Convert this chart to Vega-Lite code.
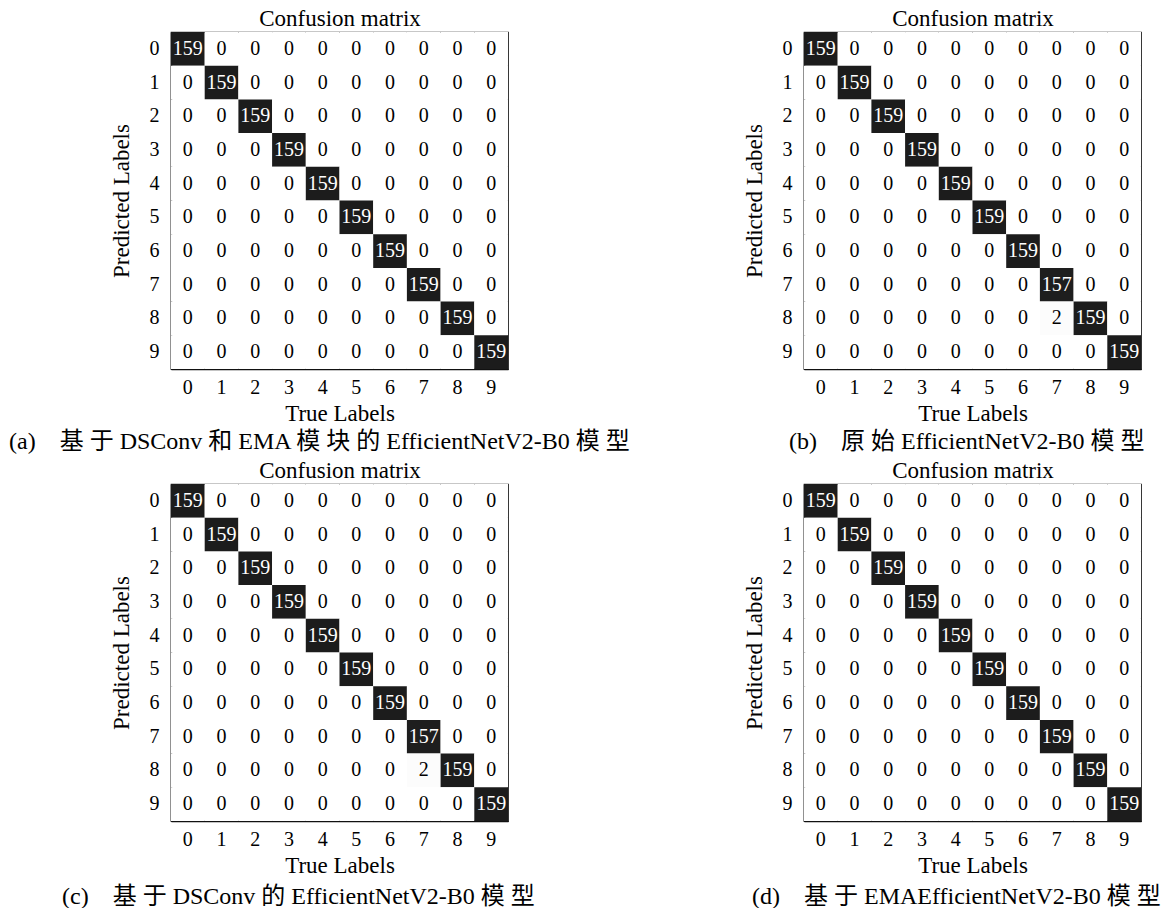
{
"$schema": "https://vega.github.io/schema/vega-lite/v6.json",
"padding": {"left": 8, "top": 6, "right": 4, "bottom": 0},
"background": "white",
"config": {
  "view": {"stroke": "#222222", "strokeWidth": 1.2},
  "axis": {"zindex": 1, "domainColor": "#111111", "domainWidth": 1.5, "tickColor": "#111111", "tickWidth": 1.2, "labelColor": "#000000", "titleColor": "#000000", "labelFont": "Liberation Serif", "titleFont": "Liberation Serif", "titleFontWeight": "normal", "grid": false},
  "title": {"font": "Liberation Serif, Noto Sans CJK SC", "fontWeight": "normal", "color": "#000000"},
  "text": {"font": "Liberation Serif"}
},
"datasets": {
"a": [
{"p":0,"t":0,"v":159},{"p":0,"t":1,"v":0},{"p":0,"t":2,"v":0},{"p":0,"t":3,"v":0},{"p":0,"t":4,"v":0},{"p":0,"t":5,"v":0},{"p":0,"t":6,"v":0},{"p":0,"t":7,"v":0},{"p":0,"t":8,"v":0},{"p":0,"t":9,"v":0},
{"p":1,"t":0,"v":0},{"p":1,"t":1,"v":159},{"p":1,"t":2,"v":0},{"p":1,"t":3,"v":0},{"p":1,"t":4,"v":0},{"p":1,"t":5,"v":0},{"p":1,"t":6,"v":0},{"p":1,"t":7,"v":0},{"p":1,"t":8,"v":0},{"p":1,"t":9,"v":0},
{"p":2,"t":0,"v":0},{"p":2,"t":1,"v":0},{"p":2,"t":2,"v":159},{"p":2,"t":3,"v":0},{"p":2,"t":4,"v":0},{"p":2,"t":5,"v":0},{"p":2,"t":6,"v":0},{"p":2,"t":7,"v":0},{"p":2,"t":8,"v":0},{"p":2,"t":9,"v":0},
{"p":3,"t":0,"v":0},{"p":3,"t":1,"v":0},{"p":3,"t":2,"v":0},{"p":3,"t":3,"v":159},{"p":3,"t":4,"v":0},{"p":3,"t":5,"v":0},{"p":3,"t":6,"v":0},{"p":3,"t":7,"v":0},{"p":3,"t":8,"v":0},{"p":3,"t":9,"v":0},
{"p":4,"t":0,"v":0},{"p":4,"t":1,"v":0},{"p":4,"t":2,"v":0},{"p":4,"t":3,"v":0},{"p":4,"t":4,"v":159},{"p":4,"t":5,"v":0},{"p":4,"t":6,"v":0},{"p":4,"t":7,"v":0},{"p":4,"t":8,"v":0},{"p":4,"t":9,"v":0},
{"p":5,"t":0,"v":0},{"p":5,"t":1,"v":0},{"p":5,"t":2,"v":0},{"p":5,"t":3,"v":0},{"p":5,"t":4,"v":0},{"p":5,"t":5,"v":159},{"p":5,"t":6,"v":0},{"p":5,"t":7,"v":0},{"p":5,"t":8,"v":0},{"p":5,"t":9,"v":0},
{"p":6,"t":0,"v":0},{"p":6,"t":1,"v":0},{"p":6,"t":2,"v":0},{"p":6,"t":3,"v":0},{"p":6,"t":4,"v":0},{"p":6,"t":5,"v":0},{"p":6,"t":6,"v":159},{"p":6,"t":7,"v":0},{"p":6,"t":8,"v":0},{"p":6,"t":9,"v":0},
{"p":7,"t":0,"v":0},{"p":7,"t":1,"v":0},{"p":7,"t":2,"v":0},{"p":7,"t":3,"v":0},{"p":7,"t":4,"v":0},{"p":7,"t":5,"v":0},{"p":7,"t":6,"v":0},{"p":7,"t":7,"v":159},{"p":7,"t":8,"v":0},{"p":7,"t":9,"v":0},
{"p":8,"t":0,"v":0},{"p":8,"t":1,"v":0},{"p":8,"t":2,"v":0},{"p":8,"t":3,"v":0},{"p":8,"t":4,"v":0},{"p":8,"t":5,"v":0},{"p":8,"t":6,"v":0},{"p":8,"t":7,"v":0},{"p":8,"t":8,"v":159},{"p":8,"t":9,"v":0},
{"p":9,"t":0,"v":0},{"p":9,"t":1,"v":0},{"p":9,"t":2,"v":0},{"p":9,"t":3,"v":0},{"p":9,"t":4,"v":0},{"p":9,"t":5,"v":0},{"p":9,"t":6,"v":0},{"p":9,"t":7,"v":0},{"p":9,"t":8,"v":0},{"p":9,"t":9,"v":159}
],
"b": [
{"p":0,"t":0,"v":159},{"p":0,"t":1,"v":0},{"p":0,"t":2,"v":0},{"p":0,"t":3,"v":0},{"p":0,"t":4,"v":0},{"p":0,"t":5,"v":0},{"p":0,"t":6,"v":0},{"p":0,"t":7,"v":0},{"p":0,"t":8,"v":0},{"p":0,"t":9,"v":0},
{"p":1,"t":0,"v":0},{"p":1,"t":1,"v":159},{"p":1,"t":2,"v":0},{"p":1,"t":3,"v":0},{"p":1,"t":4,"v":0},{"p":1,"t":5,"v":0},{"p":1,"t":6,"v":0},{"p":1,"t":7,"v":0},{"p":1,"t":8,"v":0},{"p":1,"t":9,"v":0},
{"p":2,"t":0,"v":0},{"p":2,"t":1,"v":0},{"p":2,"t":2,"v":159},{"p":2,"t":3,"v":0},{"p":2,"t":4,"v":0},{"p":2,"t":5,"v":0},{"p":2,"t":6,"v":0},{"p":2,"t":7,"v":0},{"p":2,"t":8,"v":0},{"p":2,"t":9,"v":0},
{"p":3,"t":0,"v":0},{"p":3,"t":1,"v":0},{"p":3,"t":2,"v":0},{"p":3,"t":3,"v":159},{"p":3,"t":4,"v":0},{"p":3,"t":5,"v":0},{"p":3,"t":6,"v":0},{"p":3,"t":7,"v":0},{"p":3,"t":8,"v":0},{"p":3,"t":9,"v":0},
{"p":4,"t":0,"v":0},{"p":4,"t":1,"v":0},{"p":4,"t":2,"v":0},{"p":4,"t":3,"v":0},{"p":4,"t":4,"v":159},{"p":4,"t":5,"v":0},{"p":4,"t":6,"v":0},{"p":4,"t":7,"v":0},{"p":4,"t":8,"v":0},{"p":4,"t":9,"v":0},
{"p":5,"t":0,"v":0},{"p":5,"t":1,"v":0},{"p":5,"t":2,"v":0},{"p":5,"t":3,"v":0},{"p":5,"t":4,"v":0},{"p":5,"t":5,"v":159},{"p":5,"t":6,"v":0},{"p":5,"t":7,"v":0},{"p":5,"t":8,"v":0},{"p":5,"t":9,"v":0},
{"p":6,"t":0,"v":0},{"p":6,"t":1,"v":0},{"p":6,"t":2,"v":0},{"p":6,"t":3,"v":0},{"p":6,"t":4,"v":0},{"p":6,"t":5,"v":0},{"p":6,"t":6,"v":159},{"p":6,"t":7,"v":0},{"p":6,"t":8,"v":0},{"p":6,"t":9,"v":0},
{"p":7,"t":0,"v":0},{"p":7,"t":1,"v":0},{"p":7,"t":2,"v":0},{"p":7,"t":3,"v":0},{"p":7,"t":4,"v":0},{"p":7,"t":5,"v":0},{"p":7,"t":6,"v":0},{"p":7,"t":7,"v":157},{"p":7,"t":8,"v":0},{"p":7,"t":9,"v":0},
{"p":8,"t":0,"v":0},{"p":8,"t":1,"v":0},{"p":8,"t":2,"v":0},{"p":8,"t":3,"v":0},{"p":8,"t":4,"v":0},{"p":8,"t":5,"v":0},{"p":8,"t":6,"v":0},{"p":8,"t":7,"v":2},{"p":8,"t":8,"v":159},{"p":8,"t":9,"v":0},
{"p":9,"t":0,"v":0},{"p":9,"t":1,"v":0},{"p":9,"t":2,"v":0},{"p":9,"t":3,"v":0},{"p":9,"t":4,"v":0},{"p":9,"t":5,"v":0},{"p":9,"t":6,"v":0},{"p":9,"t":7,"v":0},{"p":9,"t":8,"v":0},{"p":9,"t":9,"v":159}
],
"c": [
{"p":0,"t":0,"v":159},{"p":0,"t":1,"v":0},{"p":0,"t":2,"v":0},{"p":0,"t":3,"v":0},{"p":0,"t":4,"v":0},{"p":0,"t":5,"v":0},{"p":0,"t":6,"v":0},{"p":0,"t":7,"v":0},{"p":0,"t":8,"v":0},{"p":0,"t":9,"v":0},
{"p":1,"t":0,"v":0},{"p":1,"t":1,"v":159},{"p":1,"t":2,"v":0},{"p":1,"t":3,"v":0},{"p":1,"t":4,"v":0},{"p":1,"t":5,"v":0},{"p":1,"t":6,"v":0},{"p":1,"t":7,"v":0},{"p":1,"t":8,"v":0},{"p":1,"t":9,"v":0},
{"p":2,"t":0,"v":0},{"p":2,"t":1,"v":0},{"p":2,"t":2,"v":159},{"p":2,"t":3,"v":0},{"p":2,"t":4,"v":0},{"p":2,"t":5,"v":0},{"p":2,"t":6,"v":0},{"p":2,"t":7,"v":0},{"p":2,"t":8,"v":0},{"p":2,"t":9,"v":0},
{"p":3,"t":0,"v":0},{"p":3,"t":1,"v":0},{"p":3,"t":2,"v":0},{"p":3,"t":3,"v":159},{"p":3,"t":4,"v":0},{"p":3,"t":5,"v":0},{"p":3,"t":6,"v":0},{"p":3,"t":7,"v":0},{"p":3,"t":8,"v":0},{"p":3,"t":9,"v":0},
{"p":4,"t":0,"v":0},{"p":4,"t":1,"v":0},{"p":4,"t":2,"v":0},{"p":4,"t":3,"v":0},{"p":4,"t":4,"v":159},{"p":4,"t":5,"v":0},{"p":4,"t":6,"v":0},{"p":4,"t":7,"v":0},{"p":4,"t":8,"v":0},{"p":4,"t":9,"v":0},
{"p":5,"t":0,"v":0},{"p":5,"t":1,"v":0},{"p":5,"t":2,"v":0},{"p":5,"t":3,"v":0},{"p":5,"t":4,"v":0},{"p":5,"t":5,"v":159},{"p":5,"t":6,"v":0},{"p":5,"t":7,"v":0},{"p":5,"t":8,"v":0},{"p":5,"t":9,"v":0},
{"p":6,"t":0,"v":0},{"p":6,"t":1,"v":0},{"p":6,"t":2,"v":0},{"p":6,"t":3,"v":0},{"p":6,"t":4,"v":0},{"p":6,"t":5,"v":0},{"p":6,"t":6,"v":159},{"p":6,"t":7,"v":0},{"p":6,"t":8,"v":0},{"p":6,"t":9,"v":0},
{"p":7,"t":0,"v":0},{"p":7,"t":1,"v":0},{"p":7,"t":2,"v":0},{"p":7,"t":3,"v":0},{"p":7,"t":4,"v":0},{"p":7,"t":5,"v":0},{"p":7,"t":6,"v":0},{"p":7,"t":7,"v":157},{"p":7,"t":8,"v":0},{"p":7,"t":9,"v":0},
{"p":8,"t":0,"v":0},{"p":8,"t":1,"v":0},{"p":8,"t":2,"v":0},{"p":8,"t":3,"v":0},{"p":8,"t":4,"v":0},{"p":8,"t":5,"v":0},{"p":8,"t":6,"v":0},{"p":8,"t":7,"v":2},{"p":8,"t":8,"v":159},{"p":8,"t":9,"v":0},
{"p":9,"t":0,"v":0},{"p":9,"t":1,"v":0},{"p":9,"t":2,"v":0},{"p":9,"t":3,"v":0},{"p":9,"t":4,"v":0},{"p":9,"t":5,"v":0},{"p":9,"t":6,"v":0},{"p":9,"t":7,"v":0},{"p":9,"t":8,"v":0},{"p":9,"t":9,"v":159}
],
"d": [
{"p":0,"t":0,"v":159},{"p":0,"t":1,"v":0},{"p":0,"t":2,"v":0},{"p":0,"t":3,"v":0},{"p":0,"t":4,"v":0},{"p":0,"t":5,"v":0},{"p":0,"t":6,"v":0},{"p":0,"t":7,"v":0},{"p":0,"t":8,"v":0},{"p":0,"t":9,"v":0},
{"p":1,"t":0,"v":0},{"p":1,"t":1,"v":159},{"p":1,"t":2,"v":0},{"p":1,"t":3,"v":0},{"p":1,"t":4,"v":0},{"p":1,"t":5,"v":0},{"p":1,"t":6,"v":0},{"p":1,"t":7,"v":0},{"p":1,"t":8,"v":0},{"p":1,"t":9,"v":0},
{"p":2,"t":0,"v":0},{"p":2,"t":1,"v":0},{"p":2,"t":2,"v":159},{"p":2,"t":3,"v":0},{"p":2,"t":4,"v":0},{"p":2,"t":5,"v":0},{"p":2,"t":6,"v":0},{"p":2,"t":7,"v":0},{"p":2,"t":8,"v":0},{"p":2,"t":9,"v":0},
{"p":3,"t":0,"v":0},{"p":3,"t":1,"v":0},{"p":3,"t":2,"v":0},{"p":3,"t":3,"v":159},{"p":3,"t":4,"v":0},{"p":3,"t":5,"v":0},{"p":3,"t":6,"v":0},{"p":3,"t":7,"v":0},{"p":3,"t":8,"v":0},{"p":3,"t":9,"v":0},
{"p":4,"t":0,"v":0},{"p":4,"t":1,"v":0},{"p":4,"t":2,"v":0},{"p":4,"t":3,"v":0},{"p":4,"t":4,"v":159},{"p":4,"t":5,"v":0},{"p":4,"t":6,"v":0},{"p":4,"t":7,"v":0},{"p":4,"t":8,"v":0},{"p":4,"t":9,"v":0},
{"p":5,"t":0,"v":0},{"p":5,"t":1,"v":0},{"p":5,"t":2,"v":0},{"p":5,"t":3,"v":0},{"p":5,"t":4,"v":0},{"p":5,"t":5,"v":159},{"p":5,"t":6,"v":0},{"p":5,"t":7,"v":0},{"p":5,"t":8,"v":0},{"p":5,"t":9,"v":0},
{"p":6,"t":0,"v":0},{"p":6,"t":1,"v":0},{"p":6,"t":2,"v":0},{"p":6,"t":3,"v":0},{"p":6,"t":4,"v":0},{"p":6,"t":5,"v":0},{"p":6,"t":6,"v":159},{"p":6,"t":7,"v":0},{"p":6,"t":8,"v":0},{"p":6,"t":9,"v":0},
{"p":7,"t":0,"v":0},{"p":7,"t":1,"v":0},{"p":7,"t":2,"v":0},{"p":7,"t":3,"v":0},{"p":7,"t":4,"v":0},{"p":7,"t":5,"v":0},{"p":7,"t":6,"v":0},{"p":7,"t":7,"v":159},{"p":7,"t":8,"v":0},{"p":7,"t":9,"v":0},
{"p":8,"t":0,"v":0},{"p":8,"t":1,"v":0},{"p":8,"t":2,"v":0},{"p":8,"t":3,"v":0},{"p":8,"t":4,"v":0},{"p":8,"t":5,"v":0},{"p":8,"t":6,"v":0},{"p":8,"t":7,"v":0},{"p":8,"t":8,"v":159},{"p":8,"t":9,"v":0},
{"p":9,"t":0,"v":0},{"p":9,"t":1,"v":0},{"p":9,"t":2,"v":0},{"p":9,"t":3,"v":0},{"p":9,"t":4,"v":0},{"p":9,"t":5,"v":0},{"p":9,"t":6,"v":0},{"p":9,"t":7,"v":0},{"p":9,"t":8,"v":0},{"p":9,"t":9,"v":159}
]
},
"columns": 2,
"bounds": "flush",
"spacing": {"row": 115, "column": 296},
"concat": [
{
 "width": 337, "height": 337,
 "data": {"name": "a"},
 "title": {"text": "(a)\u2003基 于 DSConv 和 EMA 模 块 的 EfficientNetV2-B0 模 型", "orient": "bottom", "anchor": "start", "frame": "group", "dx": -162, "fontSize": 24, "offset": 5},
 "resolve": {"axis": {"x": "independent"}},
 "layer": [
  {"mark": {"type": "rect"},
   "encoding": {
     "x": {"field": "t", "type": "ordinal", "axis": {"orient": "bottom", "title": "True Labels", "labelAngle": 0, "tickSize": -5, "labelPadding": 13, "labelFontSize": 20, "titleFontSize": 23, "titlePadding": 5}},
     "y": {"field": "p", "type": "ordinal", "axis": {"orient": "left", "title": "Predicted Labels", "labelAngle": 0, "tickSize": -5, "labelPadding": 17, "labelFontSize": 20, "titleFontSize": 23, "titlePadding": 16}},
     "fill": {"field": "v", "type": "quantitative", "scale": {"domain": [0, 159], "range": ["#ffffff", "#1c1c1c"]}, "legend": null}
   }},
  {"mark": {"type": "text", "fontSize": 20, "font": "Liberation Serif"},
   "encoding": {
     "x": {"field": "t", "type": "ordinal", "axis": {"orient": "top", "title": "Confusion matrix", "labels": false, "ticks": false, "domain": false, "titleFontSize": 23, "titlePadding": 2}},
     "y": {"field": "p", "type": "ordinal"},
     "text": {"field": "v", "type": "quantitative"},
     "color": {"condition": {"test": "datum.v > 80", "value": "#ffffff"}, "value": "#000000"}
   }}
 ]
},
{
 "width": 337, "height": 337,
 "data": {"name": "b"},
 "title": {"text": "(b)\u2003原 始 EfficientNetV2-B0 模 型", "orient": "bottom", "anchor": "start", "frame": "group", "dx": -15, "fontSize": 24, "offset": 5},
 "resolve": {"axis": {"x": "independent"}},
 "layer": [
  {"mark": {"type": "rect"},
   "encoding": {
     "x": {"field": "t", "type": "ordinal", "axis": {"orient": "bottom", "title": "True Labels", "labelAngle": 0, "tickSize": -5, "labelPadding": 13, "labelFontSize": 20, "titleFontSize": 23, "titlePadding": 5}},
     "y": {"field": "p", "type": "ordinal", "axis": {"orient": "left", "title": "Predicted Labels", "labelAngle": 0, "tickSize": -5, "labelPadding": 17, "labelFontSize": 20, "titleFontSize": 23, "titlePadding": 16}},
     "fill": {"field": "v", "type": "quantitative", "scale": {"domain": [0, 159], "range": ["#ffffff", "#1c1c1c"]}, "legend": null}
   }},
  {"mark": {"type": "text", "fontSize": 20, "font": "Liberation Serif"},
   "encoding": {
     "x": {"field": "t", "type": "ordinal", "axis": {"orient": "top", "title": "Confusion matrix", "labels": false, "ticks": false, "domain": false, "titleFontSize": 23, "titlePadding": 2}},
     "y": {"field": "p", "type": "ordinal"},
     "text": {"field": "v", "type": "quantitative"},
     "color": {"condition": {"test": "datum.v > 80", "value": "#ffffff"}, "value": "#000000"}
   }}
 ]
},
{
 "width": 337, "height": 337,
 "data": {"name": "c"},
 "title": {"text": "(c)\u2003基 于 DSConv 的 EfficientNetV2-B0 模 型", "orient": "bottom", "anchor": "start", "frame": "group", "dx": -109, "fontSize": 24, "offset": 8},
 "resolve": {"axis": {"x": "independent"}},
 "layer": [
  {"mark": {"type": "rect"},
   "encoding": {
     "x": {"field": "t", "type": "ordinal", "axis": {"orient": "bottom", "title": "True Labels", "labelAngle": 0, "tickSize": -5, "labelPadding": 13, "labelFontSize": 20, "titleFontSize": 23, "titlePadding": 5}},
     "y": {"field": "p", "type": "ordinal", "axis": {"orient": "left", "title": "Predicted Labels", "labelAngle": 0, "tickSize": -5, "labelPadding": 17, "labelFontSize": 20, "titleFontSize": 23, "titlePadding": 16}},
     "fill": {"field": "v", "type": "quantitative", "scale": {"domain": [0, 159], "range": ["#ffffff", "#1c1c1c"]}, "legend": null}
   }},
  {"mark": {"type": "text", "fontSize": 20, "font": "Liberation Serif"},
   "encoding": {
     "x": {"field": "t", "type": "ordinal", "axis": {"orient": "top", "title": "Confusion matrix", "labels": false, "ticks": false, "domain": false, "titleFontSize": 23, "titlePadding": 2}},
     "y": {"field": "p", "type": "ordinal"},
     "text": {"field": "v", "type": "quantitative"},
     "color": {"condition": {"test": "datum.v > 80", "value": "#ffffff"}, "value": "#000000"}
   }}
 ]
},
{
 "width": 337, "height": 337,
 "data": {"name": "d"},
 "title": {"text": "(d)\u2003基 于 EMAEfficientNetV2-B0 模 型", "orient": "bottom", "anchor": "start", "frame": "group", "dx": -52, "fontSize": 24, "offset": 8},
 "resolve": {"axis": {"x": "independent"}},
 "layer": [
  {"mark": {"type": "rect"},
   "encoding": {
     "x": {"field": "t", "type": "ordinal", "axis": {"orient": "bottom", "title": "True Labels", "labelAngle": 0, "tickSize": -5, "labelPadding": 13, "labelFontSize": 20, "titleFontSize": 23, "titlePadding": 5}},
     "y": {"field": "p", "type": "ordinal", "axis": {"orient": "left", "title": "Predicted Labels", "labelAngle": 0, "tickSize": -5, "labelPadding": 17, "labelFontSize": 20, "titleFontSize": 23, "titlePadding": 16}},
     "fill": {"field": "v", "type": "quantitative", "scale": {"domain": [0, 159], "range": ["#ffffff", "#1c1c1c"]}, "legend": null}
   }},
  {"mark": {"type": "text", "fontSize": 20, "font": "Liberation Serif"},
   "encoding": {
     "x": {"field": "t", "type": "ordinal", "axis": {"orient": "top", "title": "Confusion matrix", "labels": false, "ticks": false, "domain": false, "titleFontSize": 23, "titlePadding": 2}},
     "y": {"field": "p", "type": "ordinal"},
     "text": {"field": "v", "type": "quantitative"},
     "color": {"condition": {"test": "datum.v > 80", "value": "#ffffff"}, "value": "#000000"}
   }}
 ]
}
]
}
